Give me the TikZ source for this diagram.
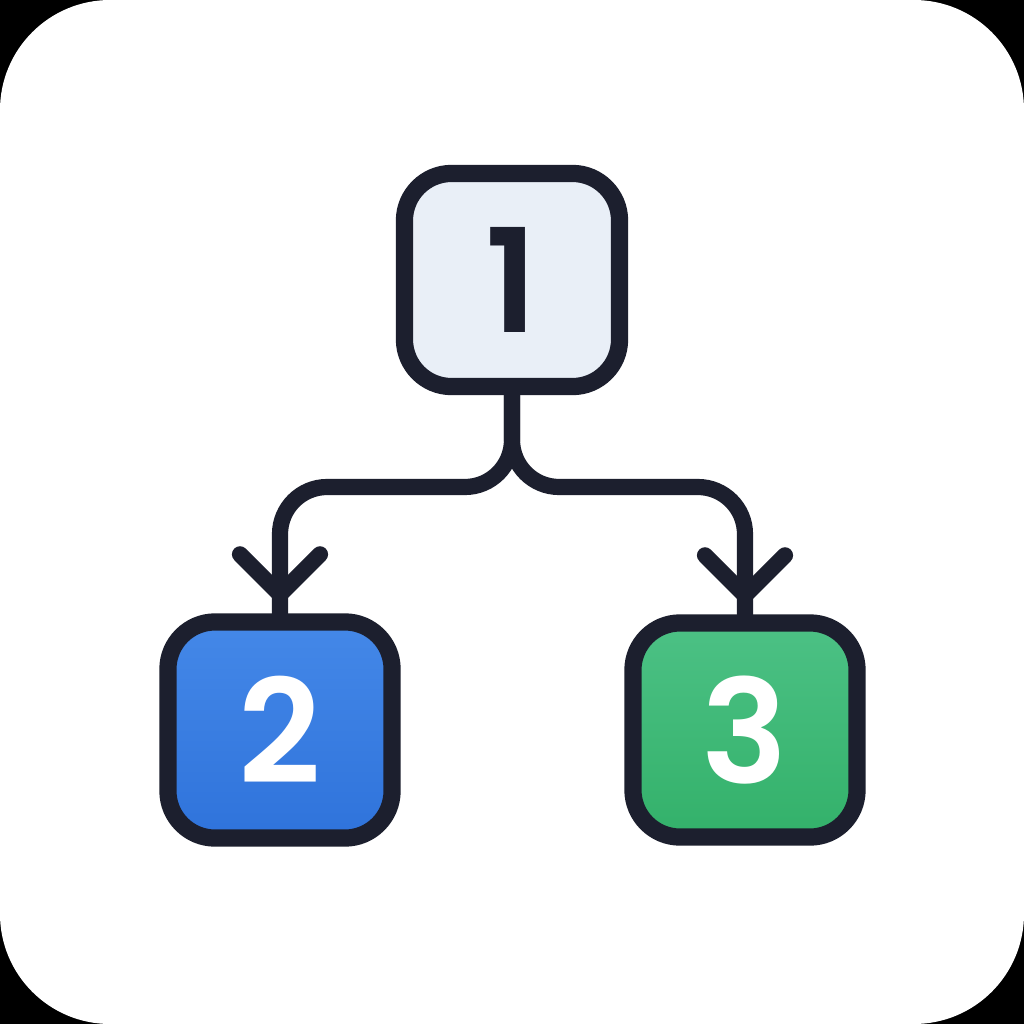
\documentclass[tikz,border=0pt]{standalone}
\usepackage{fontspec}
\setmainfont{Poppins}[BoldFont={Poppins SemiBold}]
\usetikzlibrary{calc}
\definecolor{ink}{HTML}{1C1F2E}
\definecolor{paleblue}{HTML}{E9EFF7}
\definecolor{blueA}{HTML}{4488E8}
\definecolor{blueB}{HTML}{2F73DB}
\definecolor{greenA}{HTML}{4CC185}
\definecolor{greenB}{HTML}{33B16A}
\begin{document}
\begin{tikzpicture}[x=0.01cm,y=-0.01cm,
  box/.style={draw=ink, line width=4.9pt, rounded corners=13.4pt,
    font=\fontsize{41}{41}\selectfont\bfseries, inner sep=0pt},
  conn/.style={draw=ink, line width=4.6pt, line cap=round, line join=round}]
  \fill[black] (0,0) rectangle (1024,1024);
  \fill[white, rounded corners=1.1cm] (0,0) rectangle (1024,1024);
  \useasboundingbox (0,0) rectangle (1024,1024);

  \node[box, fill=paleblue, text=ink, minimum width=2.15cm, minimum height=2.13cm] (n1) at (512,280) {1};
  \node[box, top color=blueA, bottom color=blueB, text=white, minimum width=2.24cm, minimum height=2.16cm] (n2) at (280,730) {2};
  \node[box, top color=greenA, bottom color=greenB, text=white, minimum width=2.24cm, minimum height=2.14cm] (n3) at (745,730) {3};

  \coordinate (split) at (512,487);
  \draw[conn, rounded corners=13.4pt] (n1.south) -- (split) -| (n2.north);
  \draw[conn, rounded corners=13.4pt] (n1.south) -- (split) -| (n3.north);
  \draw[conn] ($(n2.north)+(-40,-59)$) -- ($(n2.north)+(0,-19)$) -- ($(n2.north)+(40,-59)$);
  \draw[conn] ($(n3.north)+(-40,-59)$) -- ($(n3.north)+(0,-19)$) -- ($(n3.north)+(40,-59)$);
\end{tikzpicture}
\end{document}
